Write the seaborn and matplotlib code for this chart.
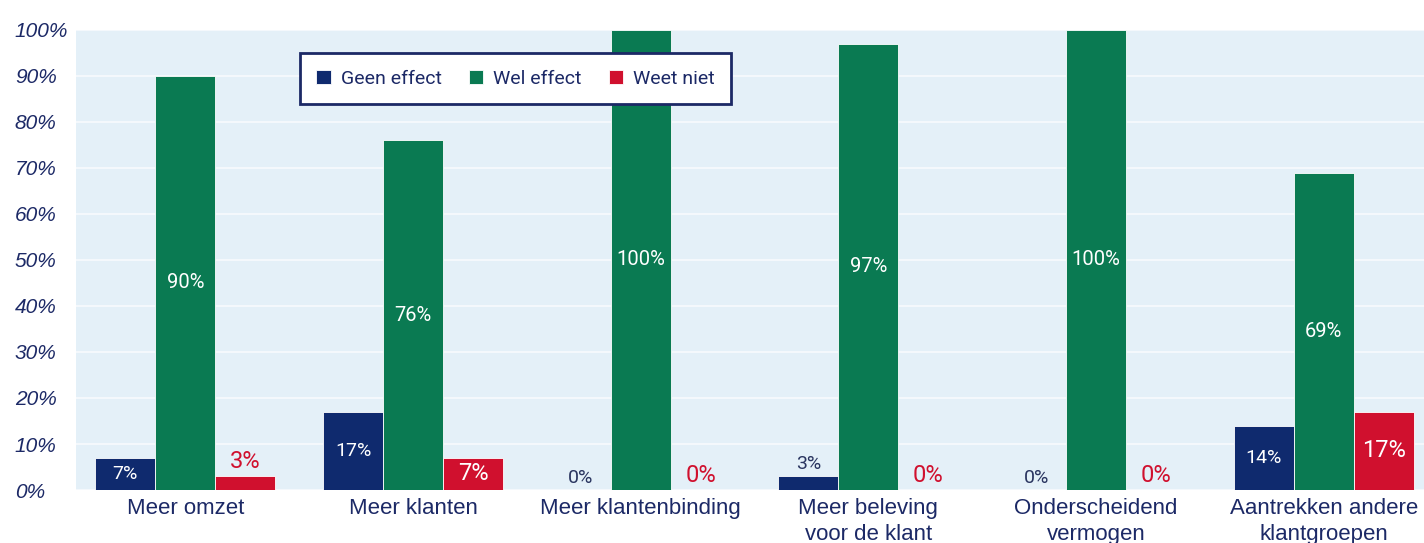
import numpy as np
import pandas as pd
import seaborn as sns
import matplotlib.pyplot as plt
from matplotlib import font_manager

categories = ["Meer omzet", "Meer klanten", "Meer klantenbinding",
              "Meer beleving\nvoor de klant", "Onderscheidend\nvermogen",
              "Aantrekken andere\nklantgroepen"]
series = ["Geen effect", "Wel effect", "Weet niet"]
geen_effect = [7, 17, 0, 3, 0, 14]
wel_effect = [90, 76, 100, 97, 100, 69]
weet_niet = [3, 7, 0, 0, 0, 17]
yticks = [0, 10, 20, 30, 40, 50, 60, 70, 80, 90, 100]

navy = "#0f2a6e"
green = "#0a7a52"
red = "#d0102e"
text_navy = "#1c2966"

names = set(f.name for f in font_manager.fontManager.ttflist)
narrow = "Liberation Sans Narrow" if "Liberation Sans Narrow" in names else "Roboto"

df = pd.DataFrame({
    "categorie": categories * 3,
    "reeks": [s for s in series for _ in categories],
    "waarde": geen_effect + wel_effect + weet_niet,
})

sns.set_style("white")
plt.rcParams["font.family"] = ["Liberation Sans", "DejaVu Sans"]

fig = plt.figure(figsize=(14.24, 5.43), dpi=100)
ax = fig.add_axes([0.0534, 0.0976, 0.9466, 0.8472])
ax.set_facecolor("#e4f0f8")

sns.barplot(data=df, x="categorie", y="waarde", hue="reeks", order=categories,
            hue_order=series, palette=[navy, green, red], width=0.79, gap=0,
            edgecolor="white", linewidth=0.6, saturation=1, ax=ax, legend=True)

# labels: inside the bar when there is room, otherwise just above it
lab_colors = ["#2a3560", "white", red]
sizes = [14, 14.5, 17]
for i, cont in enumerate(ax.containers):
    vals = [geen_effect, wel_effect, weet_niet][i]
    for bar, v in zip(cont, vals):
        x = bar.get_x() + bar.get_width() / 2
        if v >= 5:
            ax.text(x, v / 2, f"{v}%", ha="center", va="center", color="white",
                    fontsize=sizes[i], family=narrow)
        else:
            ax.text(x, v + 0.6, f"{v}%", ha="center", va="bottom", color=lab_colors[i],
                    fontsize=sizes[i], family=narrow)

ax.set_ylim(0, 100)
ax.set_xlim(-0.48, 5.44)
ax.set_yticks(yticks)
ax.set_yticklabels([f"{t}%" for t in yticks], fontstyle="italic", color=text_navy, fontsize=15)
ax.tick_params(axis="y", length=0, pad=44)
for lab in ax.get_yticklabels():
    lab.set_horizontalalignment("left")
ax.set_xticks(range(len(categories)))
ax.set_xticklabels(categories, fontsize=16, color=text_navy, linespacing=1.3)
ax.tick_params(axis="x", length=0, pad=6)
ax.yaxis.grid(True, color="white", linewidth=1.5, alpha=0.6)
ax.set_axisbelow(True)
for s in ax.spines.values():
    s.set_visible(False)
ax.set_xlabel("")
ax.set_ylabel("")

leg = ax.legend(loc="upper left", bbox_to_anchor=(0.166, 0.95), borderaxespad=0,
                ncol=3, frameon=True, fancybox=False, edgecolor=text_navy,
                facecolor="white", framealpha=1, handlelength=0.75, handleheight=0.75,
                columnspacing=1.4, handletextpad=0.5, borderpad=0.85,
                prop={"family": narrow, "size": 14})
leg.get_frame().set_linewidth(2)
for t in leg.get_texts():
    t.set_color(text_navy)

fig.savefig("out.png", dpi=100, facecolor="white")
